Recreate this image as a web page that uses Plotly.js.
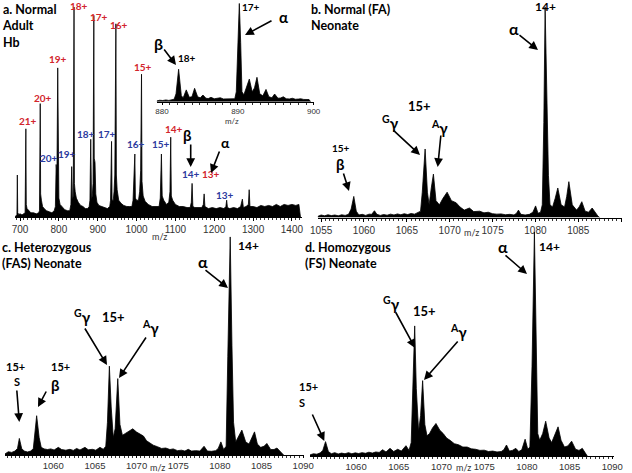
<!DOCTYPE html>
<html><head><meta charset="utf-8">
<script src="https://cdn.plot.ly/plotly-3.0.1.min.js"></script>
<style>html,body{margin:0;padding:0;background:#fff}#chart{width:632px;height:473px}</style>
</head><body><div id="chart"></div>
<script>
// ---------- data: [m/z, relative intensity %] ----------
const specA = [
[687,0],[690,1],[692,1.2],[693,20],[694,2],[697,1.2],[700,1.5],[705,1],[710,1.5],[713,2],
[715,42],[716,6],[718,4],[722,3],[728,2],[735,2],[742,1.5],[748,2],[750,3],[752,54],
[753,11],[755,8],[758,5],[762,4],[768,3],[775,2.5],[782,2],[788,3],[791,5],[793,25],
[795,20],[797,71],[798,14],[800,9],[803,6],[808,5],[815,3.5],[822,3],[828,3],[831,6],
[833,24],[835,8],[837,10],[839,100],[840,16],[842,12],[845,9],[850,7],[856,5.5],[862,5],
[868,4],[874,4],[878,5],[880,8],[882,37],[884,8],[886,10],[888,16],[890,96],[891,28],
[893,26],[895,11],[898,7],[903,5.5],[910,5],[918,4.5],[925,4],[931,5],[933,8],[935.6,36],
[937,8],[940,8],[942,12],[944,20],[946.8,92],[948,20],[950,13],[954,8],[960,6.5],[967,5.5],
[975,5],[982,5],[988,5],[991,8],[995.6,30],[997,9],[1000,8],[1005,8],[1008,12],[1010.5,22],
[1012.8,68],[1014,17],[1017,10],[1022,7.5],[1030,6],[1040,5],[1050,5],[1058,5],[1061,9],[1064,30],
[1066,10],[1070,8],[1077,6],[1083,7],[1086,12],[1088,38],[1089.5,10],[1093,8],[1100,6],[1110,5],
[1120,5],[1130,4.5],[1138,4.5],[1141,7],[1143,16],[1145,5],[1150,4.5],[1160,4.5],[1168,4.5],[1172,6],
[1174,11],[1176,5],[1185,4],[1195,4.5],[1205,4],[1215,4.5],[1225,4],[1230,5],[1232,8],[1234,4.5],
[1240,4],[1250,4.5],[1260,4],[1268,5],[1272.5,8.5],[1275,4.5],[1282,5],[1288,6],[1290,13],[1292,5],
[1300,5],[1310,4.5],[1320,5.5],[1330,5],[1340,5.5],[1350,5],[1360,6],[1370,5],[1380,6],[1390,5.5],
[1400,6],[1410,5.5],[1418,6],[1422,0]
];
const specInset = [
[879.3,0.8],[879.7,1.5],[880.1,1.2],[880.5,1.8],[880.9,1.3],[881.3,2],[881.6,2.5],[881.85,8],[882.19,33],[882.55,6],
[882.8,4],[883.2,12],[883.6,4.5],[883.95,5],[884.3,13.6],[884.7,5],[885.05,4],[885.4,6.8],[885.8,3.5],[886.1,3.2],
[886.46,4.4],[886.9,3],[887.3,3.2],[887.69,4],[888.1,2.8],[888.5,3],[888.9,2.6],[889.3,2.8],[889.6,3],[889.8,10],
[890.05,70],[890.2,100],[890.38,60],[890.55,10],[890.8,7],[891.15,14],[891.52,23],[891.9,10],[892.2,14],[892.53,24.8],
[892.9,8],[893.3,6],[893.72,12.5],[894.1,5],[894.5,4],[894.86,7.8],[895.3,3.5],[895.65,3.8],[896,5],[896.4,3],
[896.8,2.8],[897.2,3.5],[897.6,2.5],[898,2.7],[898.3,3],[898.7,2.3],[899.1,2.5],[899.4,2.2],[899.6,0]
];
const specB = [
[1054.6,0.5],[1055,1.2],[1055.4,0.8],[1055.8,1.3],[1056.2,0.9],[1056.6,1.2],[1057,0.8],[1057.4,1.3],[1057.8,1],[1058.2,1.5],
[1058.5,4],[1058.81,10],[1059.1,3],[1059.4,1.2],[1059.8,1.5],[1060.2,1],[1060.6,1.6],[1060.9,1.5],[1061.22,3.2],[1061.5,1.5],
[1061.9,1],[1062.3,1.4],[1062.7,1.1],[1063.1,1.6],[1063.5,1.2],[1063.9,1.7],[1064.3,1.3],[1064.7,1.8],[1065.1,1.4],[1065.5,1.9],
[1065.9,1.6],[1066.3,2.2],[1066.6,3],[1066.8,12],[1067.13,32.5],[1067.4,12],[1067.6,6],[1067.85,14],[1068.1,20.6],[1068.4,8],
[1068.8,6],[1069.2,9],[1069.7,12],[1070.2,8],[1070.75,7],[1071.2,5],[1071.7,3.5],[1072.3,4.5],[1072.8,2.8],[1073.5,3],
[1074,2.2],[1074.5,2.5],[1075,1.8],[1075.5,1.6],[1076,1.7],[1076.5,1.3],[1077,1.5],[1077.5,1.2],[1077.8,2],[1078.02,3.5],
[1078.3,1.5],[1078.8,1.2],[1079.3,1.5],[1079.7,2.5],[1080.02,5.5],[1080.3,2],[1080.6,2.5],[1080.8,6],[1080.98,45],[1081.13,100],
[1081.33,55],[1081.52,20],[1081.7,6],[1082,5],[1082.3,9],[1082.61,14],[1083,6],[1083.4,5],[1083.65,10],[1083.9,17],
[1084.3,6],[1084.8,3.5],[1085.1,5],[1085.41,7.5],[1085.8,3],[1086.2,2.5],[1086.62,4.5],[1087,2],[1087.3,0.6],[1087.5,0]
];
const specC = [
[1054.2,0.5],[1054.6,1.5],[1055,1.2],[1055.4,1.8],[1055.7,3],[1055.92,7.6],[1056.2,3],[1056.5,1.8],[1056.9,1.4],[1057.3,1.8],
[1057.6,3],[1058.0,18],[1058.3,8],[1058.55,3.5],[1058.9,2.8],[1059.3,2.5],[1059.7,2.8],[1060.1,2.3],[1060.6,3.5],[1061,2.5],
[1061.5,2.2],[1062,2.6],[1062.4,2.1],[1062.8,3],[1063.2,2.3],[1063.8,3.5],[1064.2,2.4],[1064.7,2.6],[1065.1,2.2],[1065.6,3.5],
[1066,2.6],[1066.3,4],[1066.5,15],[1066.73,40.7],[1066.95,22],[1067.2,8],[1067.42,12],[1067.74,35],[1068,14],[1068.3,9],
[1068.7,10],[1069.1,11],[1069.54,12],[1070,10.5],[1070.4,9.5],[1070.82,8.7],[1071.2,6.5],[1071.6,5.5],[1072,4.5],[1072.5,3.8],
[1073,3],[1073.5,3.2],[1074,2.5],[1074.4,2.8],[1074.9,2],[1075.4,2.2],[1075.8,1.8],[1076.2,2.6],[1076.6,1.8],[1077.1,2],
[1077.6,1.8],[1078.1,4],[1078.5,1.8],[1079,1.7],[1079.5,2],[1079.8,3],[1080.12,6],[1080.45,2.5],[1080.75,4],[1080.95,45],
[1081.24,100],[1081.45,50],[1081.64,15],[1081.9,6],[1082.3,9],[1082.64,11.4],[1083.1,6],[1083.5,5],[1083.85,8],[1084.16,10.6],
[1084.5,5],[1084.9,3.5],[1085.3,4],[1085.64,5.3],[1086.1,2.5],[1086.5,2.5],[1086.85,3.2],[1087.3,1.5],[1087.65,0]
];
const specD = [
[1054.6,0.5],[1055,1],[1055.4,0.8],[1055.8,1.4],[1056.1,2.5],[1056.42,6.4],[1056.75,2],[1057.1,1],[1057.5,1.5],[1057.9,0.9],
[1058.3,1.3],[1058.7,1],[1059.1,1.5],[1059.5,1],[1059.9,1.4],[1060.3,1.1],[1060.7,1.5],[1061.1,1.2],[1061.5,1.7],[1061.9,1.3],
[1062.3,1.8],[1062.7,1.6],[1063.1,2.8],[1063.5,1.8],[1063.97,3.4],[1064.4,2],[1064.87,3],[1065.3,2.2],[1065.84,4.6],[1066.2,2.5],
[1066.45,6],[1066.6,25],[1066.86,58],[1067.05,30],[1067.32,11],[1067.55,18],[1067.79,33.6],[1068.05,14],[1068.3,9],[1068.6,10],
[1068.95,12.5],[1069.35,14.5],[1069.8,11.5],[1070.2,10],[1070.6,8],[1071,7],[1071.5,5.5],[1072,5],[1072.5,4],[1073,4],
[1073.5,3.2],[1074,3],[1074.5,2.5],[1075,2.6],[1075.5,2],[1076,2.2],[1076.5,1.8],[1077,2],[1077.3,2.8],[1077.61,4.9],
[1077.95,2.2],[1078.3,2.5],[1078.7,3.4],[1079.05,2],[1079.4,2.8],[1079.79,7.5],[1080.1,3],[1080.35,4],[1080.6,40],[1080.88,100],
[1081.08,60],[1081.27,10],[1081.5,7],[1081.85,10],[1082.2,15.5],[1082.6,8],[1082.9,6],[1083.2,9],[1083.65,13],[1084,7],
[1084.4,4],[1084.8,4.5],[1085.24,6.6],[1085.7,3],[1086.1,2.5],[1086.49,3.4],[1086.8,1.5],[1087.07,0]
];
const ticksA = [700,800,900,1000,1100,1200,1300,1400];
const ticksInset = [880,890,900];
const ticksB = [1055,1060,1065,1070,1075,1080,1085,1090];
const ticksCD = [1060,1065,1070,1075,1080,1085,1090];
const redCharges = ['21+','20+','19+','18+','17+','16+','15+','14+','13+'];
const blueCharges = ['20+','19+','18+','17+','16+','15+','14+','13+'];
const panelTitles = ['a. Normal<br>Adult<br>Hb', 'b. Normal (FA)<br>Neonate',
                     'c. Heterozygous<br>(FAS) Neonate', 'd. Homozygous<br>(FS) Neonate'];

// ---------- layout helpers ----------
const W = 632, H = 473;
const LBL = 'Lato, "Liberation Sans", Arial, sans-serif';
const TCK = '"Liberation Sans", Arial, sans-serif';
const RED = '#d2252c', BLUE = '#2c3a9e';
const px = v => v / W, py = v => 1 - v / H;

function spec(d, xa, ya) {
  return {type:'scatter', mode:'lines', x:d.map(p=>p[0]), y:d.map(p=>p[1]),
    xaxis:xa, yaxis:ya, fill:'tozeroy', fillcolor:'#000',
    line:{color:'#000', width:0.8}, hoverinfo:'skip'};
}
function xax(dom, range, tv, fs, mdt, anchor, tl) {
  return {domain:dom, range:range, anchor:anchor, showline:true, linecolor:'#000', linewidth:1,
    ticks:'outside', ticklen:tl||3, tickcolor:'#000', tickwidth:1, tickmode:'array', tickvals:tv,
    tickfont:{family:TCK, size:fs, color:'#333'}, showgrid:false, zeroline:false, fixedrange:true,
    minor:{ticks:'outside', ticklen:2, tickcolor:'#333', tickmode:'linear', tick0:0, dtick:mdt, showgrid:false}};
}
function yax(dom, anchor) {
  return {domain:dom, range:[0,100], anchor:anchor, visible:false, fixedrange:true};
}
const ann = [];
function T(text, x, y, size, color, anchor, bold) {
  ann.push({xref:'paper', yref:'paper', x:px(x), y:py(y), text:(bold===false?text:'<b>'+text+'</b>'),
    showarrow:false, xanchor:anchor||'center', yanchor:'middle',
    font:{family:LBL, size:size, color:color||'#000'}});
}
function TITLE(text, x, y) {
  ann.push({xref:'paper', yref:'paper', x:px(x), y:py(y), text:'<b>'+text+'</b>', showarrow:false,
    xanchor:'left', yanchor:'top', align:'left', font:{family:LBL, size:12.5, color:'#000'}});
}
function A(x0, y0, x1, y1) {
  ann.push({xref:'paper', yref:'paper', x:px(x1), y:py(y1), ax:x0-x1, ay:y0-y1, text:'',
    showarrow:true, arrowhead:2, arrowsize:1.1, arrowwidth:1.6, arrowcolor:'#000', standoff:0});
}

// panel titles
TITLE(panelTitles[0], 0, 0); TITLE(panelTitles[1], 309, 0);
TITLE(panelTitles[2], 0, 238); TITLE(panelTitles[3], 303, 238);
// panel a
const redPos = [[28.3,120.7],[42.7,97.7],[58.3,59.3],[79.3,6],[99,17.3],[119,25],[142.7,66.7],[174,129.3],[210.7,174]];
redCharges.forEach((t,i)=>T(t, redPos[i][0], redPos[i][1], 10, RED));
const bluePos = [[49.3,158.3],[66.7,154],[86,134.3],[106.7,134.3],[135.7,144.3],[161,144.3],[190.7,174],[225.3,195]];
blueCharges.forEach((t,i)=>T(t, bluePos[i][0], bluePos[i][1], 10, BLUE));
T('β', 187.3, 135, 15); A(190.7,143,190.7,167);
T('α', 225.7, 142.7, 14); A(220,150,211,173);
T('m/z', 159, 236, 9, '#333', 'center', false);
// inset
T('17+', 250.7, 7, 10); T('α', 283.3, 16.7, 15); A(273,20,245,35);
T('β', 158.3, 43.3, 16); A(163,48,176,65); T('18+', 187.3, 58.3, 10);
T('m/z', 232, 121, 8, '#333', 'center', false);
// panel b
T('14+', 545.3, 7, 12); T('α', 514.3, 28.3, 16); A(518,34,538,50);
T('15+', 419.3, 106, 13);
T('<sup>G</sup>γ', 390, 122, 15); A(392,129,420,155);
T('<sup>A</sup>γ', 439.5, 127.5, 15); A(441,134,437.7,167);
T('15+', 341, 148.3, 10); T('β', 340.3, 164.3, 15); A(343,172,349,191);
T('m/z', 471, 232, 9, '#333', 'center', false);
// panel c
T('14+', 248.3, 245, 12); T('α', 203.3, 261.7, 16); A(204,269,228,288);
T('<sup>G</sup>γ', 82, 316, 15); T('15+', 113.3, 317.3, 13); A(84,327,107,365);
T('<sup>A</sup>γ', 150, 327, 15); A(147,336,119,378);
T('15+', 15, 366, 11); T('S', 16.7, 381, 11); A(16.7,389,19.3,422);
T('15+', 60, 366, 11); T('β', 55, 385, 15); A(47,390,38,407);
T('m/z', 157, 467, 9, '#333', 'center', false);
// panel d
T('α', 502.7, 246.7, 16); A(504,254,527,274); T('14+', 549.3, 246, 12);
T('<sup>G</sup>γ', 391, 303, 15); T('15+', 424.3, 311, 13); A(395,311,415,348);
T('<sup>A</sup>γ', 458, 331, 15); A(459,340,424,380);
T('15+', 308.3, 386.7, 11); T('S', 301.7, 402.7, 11); A(311.7,413,324.3,441);
T('m/z', 463, 467, 9, '#333', 'center', false);

const data = [
  spec(specA,'x','y'), spec(specB,'x2','y2'), spec(specC,'x3','y3'),
  spec(specD,'x4','y4'), spec(specInset,'x5','y5')
];
const layout = {
  width:W, height:H, margin:{l:0,r:0,t:0,b:0}, showlegend:false,
  paper_bgcolor:'#fff', plot_bgcolor:'rgba(0,0,0,0)',
  xaxis: xax([px(15),px(302)], [687,1426], ticksA, 10, 10, 'y'),
  yaxis: yax([py(217),py(7)], 'x'),
  xaxis2: xax([px(317.7),px(622)], [1054.6,1090.1], ticksB, 10, 0.5, 'y2'),
  yaxis2: yax([py(217.5),py(6.7)], 'x2'),
  xaxis3: xax([px(5),px(304)], [1054.2,1090.1], ticksCD, 9.5, 0.5, 'y3', 2),
  yaxis3: yax([py(455),py(236.7)], 'x3'),
  xaxis4: xax([px(310),px(614)], [1054.6,1090.2], ticksCD, 9.5, 0.5, 'y4', 2),
  yaxis4: yax([py(456),py(231.7)], 'x4'),
  xaxis5: xax([px(156.7),px(313.6)], [879.3,900], ticksInset, 8, 1, 'y5', 2),
  yaxis5: yax([py(101.7),py(3.3)], 'x5'),
  annotations: ann
};
Plotly.newPlot('chart', data, layout, {staticPlot:true, displayModeBar:false});
</script></body></html>
